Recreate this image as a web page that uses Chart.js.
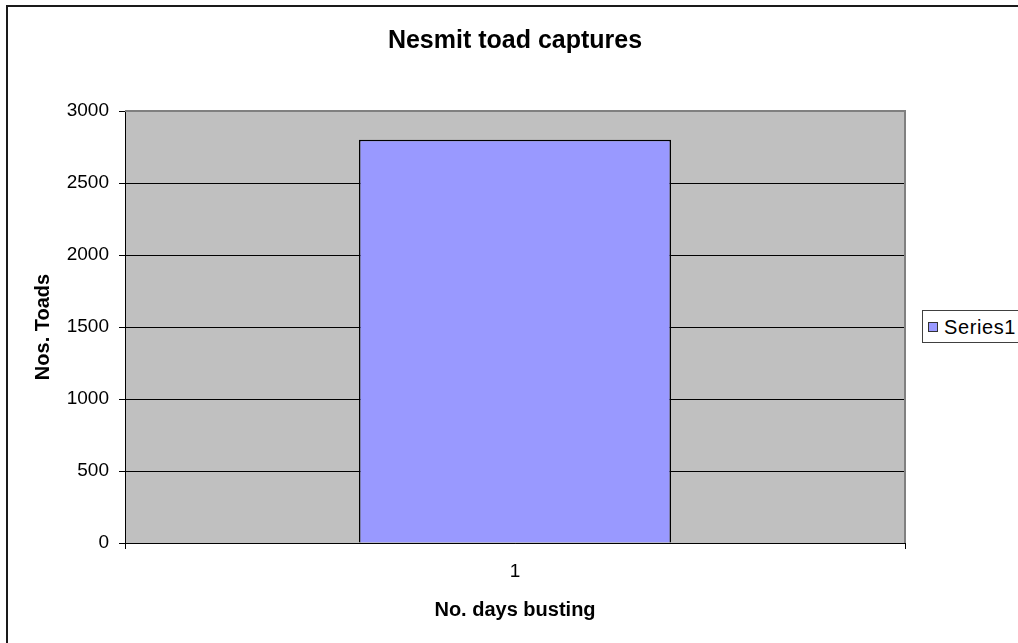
<!DOCTYPE html>
<html>
<head>
<meta charset="utf-8">
<title>Nesmit toad captures</title>
<script src="https://cdn.jsdelivr.net/npm/chart.js@4.4.0/dist/chart.umd.min.js"></script>
<style>
  html, body { margin: 0; padding: 0; background: #fff; overflow: hidden; }
  #wrap { position: relative; width: 1018px; height: 643px; overflow: hidden; }
  #frame { position: absolute; left: 6px; top: 5px; width: 1100px; height: 700px;
           border: 2px solid #1a1a1a; pointer-events: none; }
  #legend { position: absolute; left: 922px; top: 310px; width: 200px; height: 31px;
            border: 1px solid #404040; background: #fff;
            font: 20px 'Liberation Sans', Arial, sans-serif; letter-spacing: 0.6px; color: #000; }
  #legend .box { position: absolute; left: 5px; top: 11px; width: 8px; height: 8px;
                 background: #9999ff; border: 1px solid #333; }
  #legend .txt { position: absolute; left: 21px; top: 5px; line-height: 22px; }
</style>
</head>
<body>
<div id="wrap">
  <canvas id="myChart" width="1018" height="643"></canvas>
  <div id="frame"></div>
  <div id="legend"><span class="box"></span><span class="txt">Series1</span></div>
</div>
<script>
  var categories = ['1'];
  var series1 = [2800];
  var seriesName = 'Series1';
  var yMax = 3000;
  var yStep = 500;

  var fontFamily = "'Liberation Sans', Arial, sans-serif";

  // grey plot area with its grey top/right edge
  var plotArea = {
    id: 'plotArea',
    beforeDraw: function (chart) {
      var a = chart.chartArea, ctx = chart.ctx;
      ctx.save();
      ctx.fillStyle = '#c0c0c0';
      ctx.fillRect(a.left, a.top, a.right - a.left, a.bottom - a.top);
      ctx.restore();
    },
    afterDraw: function (chart) {
      var a = chart.chartArea, ctx = chart.ctx;
      ctx.save();
      ctx.strokeStyle = '#808080';
      ctx.lineWidth = 2;
      ctx.beginPath();
      ctx.moveTo(a.left, a.top);
      ctx.lineTo(a.right, a.top);
      ctx.lineTo(a.right, a.bottom);
      ctx.stroke();
      ctx.restore();
    }
  };

  var ctx = document.getElementById('myChart').getContext('2d');

  var myChart = new Chart(ctx, {
    type: 'bar',
    data: {
      labels: categories,
      datasets: [{
        label: seriesName,
        data: series1,
        backgroundColor: '#9999ff',
        borderColor: '#000000',
        borderWidth: 1.5,
        barPercentage: 0.4,
        categoryPercentage: 1
      }]
    },
    plugins: [plotArea],
    options: {
      responsive: false,
      animation: false,
      devicePixelRatio: 1,
      layout: { padding: { left: 0, right: 113, top: 0, bottom: 0 } },
      plugins: {
        legend: { display: false },
        tooltip: { enabled: false },
        title: {
          display: true,
          text: 'Nesmit toad captures',
          fullSize: false,
          color: '#000',
          font: { family: fontFamily, size: 25, weight: 'bold', lineHeight: 1.2 },
          padding: { top: 26, bottom: 55 }
        }
      },
      scales: {
        x: {
          afterFit: function (scale) { scale.height = 100; },
          grid: { display: true, drawOnChartArea: false, drawTicks: true, tickLength: 6, color: '#000', offset: true },
          border: { display: true, color: '#000', width: 1 },
          ticks: { color: '#000', padding: 11, font: { family: fontFamily, size: 19 } },
          title: {
            display: true,
            text: 'No. days busting',
            color: '#000',
            font: { family: fontFamily, size: 20, weight: 'bold', lineHeight: 1.2 },
            padding: { top: 0, bottom: 21 }
          }
        },
        y: {
          min: 0,
          max: yMax,
          afterFit: function (scale) { scale.width = 125; },
          grid: { color: '#000', lineWidth: 1, drawTicks: true, tickLength: 6 },
          border: { display: true, color: '#000', width: 1 },
          ticks: {
            stepSize: yStep,
            color: '#000',
            padding: 10,
            font: { family: fontFamily, size: 19 },
            callback: function (value) { return String(value); }
          },
          title: {
            display: true,
            text: 'Nos. Toads',
            color: '#000',
            font: { family: fontFamily, size: 20, weight: 'bold', lineHeight: 1.2 },
            padding: { top: 31, bottom: 0 }
          }
        }
      }
    }
  });
</script>
</body>
</html>
